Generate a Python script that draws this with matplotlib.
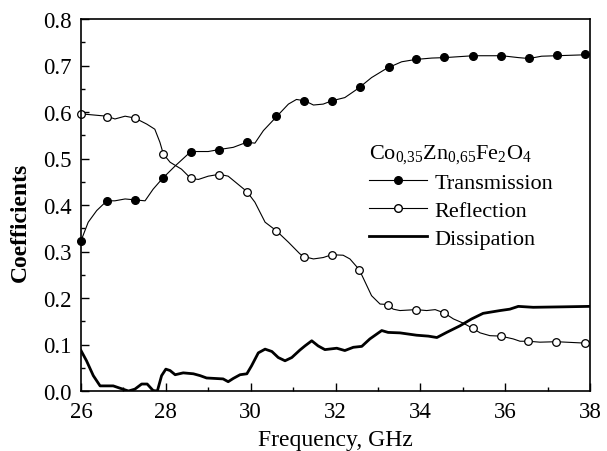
import matplotlib
matplotlib.use("Agg")
import matplotlib.pyplot as plt
from matplotlib.ticker import MultipleLocator, FormatStrFormatter

plt.rcParams['font.family'] = ['Liberation Serif', 'DejaVu Serif']
plt.rcParams['mathtext.fontset'] = 'custom'
plt.rcParams['mathtext.rm'] = 'Liberation Serif'
plt.rcParams['mathtext.it'] = 'Liberation Serif:italic'

# transmission curve (GHz, coefficient)
trans_f = [26.00, 26.17, 26.37, 26.61, 26.80, 27.04, 27.27, 27.51, 27.70, 27.92,
           28.22, 28.59, 29.00, 29.24, 29.59, 29.91, 30.10, 30.30, 30.61, 30.89,
           31.08, 31.28, 31.48, 31.71, 31.91, 32.22, 32.54, 32.85, 33.21, 33.56,
           33.89, 34.27, 34.58, 35.25, 35.92, 36.31, 36.56, 36.86, 37.21, 37.88, 38.00]
trans_v = [0.323, 0.363, 0.388, 0.409, 0.409, 0.413, 0.411, 0.409, 0.434, 0.457,
           0.484, 0.515, 0.515, 0.519, 0.524, 0.535, 0.533, 0.560, 0.590, 0.617,
           0.627, 0.624, 0.615, 0.617, 0.624, 0.631, 0.651, 0.674, 0.694, 0.708,
           0.713, 0.716, 0.717, 0.721, 0.721, 0.717, 0.715, 0.720, 0.721, 0.723, 0.723]
trans_mf = [26.00, 26.62, 27.27, 27.93, 28.59, 29.25, 29.91, 30.60, 31.26, 31.92,
            32.58, 33.25, 33.90, 34.56, 35.25, 35.90, 36.57, 37.23, 37.89]
trans_mv = [0.323, 0.409, 0.411, 0.457, 0.515, 0.518, 0.535, 0.591, 0.623, 0.624,
            0.653, 0.696, 0.714, 0.719, 0.721, 0.721, 0.717, 0.723, 0.725]

# reflection curve
refl_f = [26.00, 26.61, 26.80, 27.04, 27.27, 27.55, 27.74, 27.86, 27.94, 28.10,
          28.37, 28.59, 28.77, 29.00, 29.26, 29.47, 29.91, 30.10, 30.34, 30.60,
          30.89, 31.16, 31.26, 31.48, 31.71, 31.91, 32.18, 32.34, 32.56, 32.70,
          32.85, 33.05, 33.23, 33.36, 33.52, 33.90, 34.15, 34.35, 34.56, 34.78,
          35.01, 35.23, 35.41, 35.64, 35.90, 36.19, 36.35, 36.55, 36.82, 37.21,
          37.88, 38.00]
refl_v = [0.596, 0.591, 0.585, 0.591, 0.587, 0.574, 0.563, 0.535, 0.510, 0.492,
          0.477, 0.457, 0.455, 0.462, 0.466, 0.462, 0.429, 0.406, 0.363, 0.345,
          0.320, 0.295, 0.289, 0.284, 0.287, 0.293, 0.292, 0.284, 0.261, 0.234,
          0.205, 0.187, 0.186, 0.176, 0.173, 0.175, 0.173, 0.175, 0.168, 0.155,
          0.146, 0.135, 0.125, 0.119, 0.118, 0.112, 0.107, 0.107, 0.105, 0.106,
          0.103, 0.103]
refl_mf = [26.00, 26.62, 27.27, 27.93, 28.59, 29.26, 29.92, 30.60, 31.26, 31.91,
           32.56, 33.23, 33.90, 34.56, 35.23, 35.90, 36.55, 37.21, 37.88]
refl_mv = [0.596, 0.590, 0.587, 0.510, 0.457, 0.465, 0.429, 0.345, 0.289, 0.293,
           0.261, 0.186, 0.175, 0.168, 0.135, 0.118, 0.108, 0.106, 0.103]

# dissipation curve
diss_f = [26.00, 26.13, 26.29, 26.45, 26.76, 26.92, 27.12, 27.27, 27.43, 27.56,
          27.70, 27.80, 27.90, 28.00, 28.10, 28.22, 28.41, 28.65, 28.81, 28.96,
          29.35, 29.47, 29.59, 29.75, 29.91, 30.02, 30.18, 30.34, 30.50, 30.65,
          30.81, 30.97, 31.16, 31.28, 31.44, 31.59, 31.75, 32.03, 32.22, 32.42,
          32.62, 32.81, 33.09, 33.24, 33.52, 33.91, 34.19, 34.39, 34.62, 34.93,
          35.21, 35.48, 35.88, 36.11, 36.31, 36.66, 37.37, 38.00]
diss_v = [0.087, 0.065, 0.033, 0.011, 0.011, 0.006, 0.000, 0.004, 0.015, 0.015,
          0.001, 0.000, 0.033, 0.047, 0.044, 0.035, 0.039, 0.037, 0.033, 0.028,
          0.026, 0.020, 0.027, 0.035, 0.037, 0.054, 0.082, 0.090, 0.085, 0.072,
          0.065, 0.072, 0.088, 0.097, 0.108, 0.097, 0.089, 0.092, 0.087, 0.094,
          0.096, 0.112, 0.130, 0.126, 0.125, 0.120, 0.118, 0.115, 0.126, 0.140,
          0.155, 0.167, 0.173, 0.176, 0.182, 0.180, 0.181, 0.182]

fig = plt.figure(figsize=(6.07, 4.52), dpi=100)
ax = fig.add_axes([81/607, 60/452, 509/607, 372/452])

ax.plot(trans_f, trans_v, color='black', lw=0.8)
ax.plot(trans_mf, trans_mv, ls='none', marker='o', ms=5.5, mfc='black', mec='black', clip_on=False)
ax.plot(refl_f, refl_v, color='black', lw=0.8)
ax.plot(refl_mf, refl_mv, ls='none', marker='o', ms=5.5, mfc='white', mec='black', mew=0.9, clip_on=False)
ax.plot(diss_f, diss_v, color='black', lw=2.0)

ax.set_xlim(26, 38)
ax.set_ylim(0, 0.8)
ax.xaxis.set_major_locator(MultipleLocator(2))
ax.xaxis.set_minor_locator(MultipleLocator(1))
ax.yaxis.set_major_locator(MultipleLocator(0.1))
ax.yaxis.set_minor_locator(MultipleLocator(0.05))
ax.yaxis.set_major_formatter(FormatStrFormatter('%.1f'))
ax.tick_params(which='both', direction='in', top=False, right=False, labelsize=16.5, width=1.0)
ax.tick_params(which='major', length=6)
ax.tick_params(axis='x', which='major', pad=7)
ax.tick_params(axis='y', which='major', pad=6.5)
ax.tick_params(which='minor', length=3)
for s in ax.spines.values():
    s.set_linewidth(1.2)

ax.set_xlabel('Frequency, GHz', fontsize=17)
ax.set_ylabel('Coefficients', fontsize=17, fontweight='bold')
ax.xaxis.set_label_coords(0.499, -0.102)
ax.yaxis.set_label_coords(-0.099, 0.457)

h1, = ax.plot([], [], color='black', lw=0.8, marker='o', ms=5.5, mfc='black', mec='black')
h2, = ax.plot([], [], color='black', lw=0.8, marker='o', ms=5.5, mfc='white', mec='black')
h3, = ax.plot([], [], color='black', lw=2.0)
leg = ax.legend([h1, h2, h3], ['Transmission', 'Reflection', 'Dissipation'],
                title=r'$\mathrm{Co_{0{,}35}Zn_{0{,}65}Fe_2O_4}$', title_fontsize=16,
                fontsize=16, frameon=False, loc='upper left',
                bbox_to_anchor=(369/607, 1 - 143/452), bbox_transform=fig.transFigure,
                borderpad=0, borderaxespad=0, handlelength=2.6, handletextpad=0.35,
                labelspacing=0.33, numpoints=1, alignment='left')

fig.savefig('out.png', dpi=100)
